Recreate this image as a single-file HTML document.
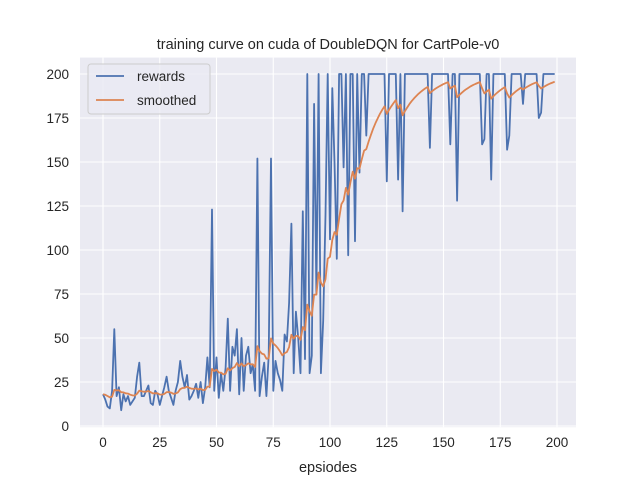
<!DOCTYPE html>
<html><head><meta charset="utf-8"><style>
body{margin:0;background:#fff;}
svg{display:block;font-family:"Liberation Sans","DejaVu Sans",sans-serif;}
</style></head><body>
<svg id="s" width="640" height="480" xmlns="http://www.w3.org/2000/svg">
<rect x="80" y="57.6" width="496" height="369.6" fill="#eaeaf2"/>
<g id="grid" stroke="#fff" stroke-width="1.1"></g>
<g id="lab" font-size="13.5" fill="#262626"></g>
<path id="r" fill="none" stroke="#4c72b0" stroke-width="1.8" stroke-linejoin="round"/>
<path id="m" fill="none" stroke="#dd8452" stroke-width="1.8" stroke-linejoin="round"/>
<text x="328" y="49" font-size="14.5" text-anchor="middle" fill="#262626">training curve on cuda of DoubleDQN for CartPole-v0</text>
<text x="328" y="472" font-size="14.5" text-anchor="middle" fill="#262626">epsiodes</text>
<rect x="88" y="64" width="122" height="50" rx="3" fill="#eaeaf2" fill-opacity="0.8" stroke="#ccc"/>
<line x1="96" y1="76" x2="124" y2="76" stroke="#4c72b0" stroke-width="1.8"/>
<line x1="96" y1="100" x2="124" y2="100" stroke="#dd8452" stroke-width="1.8"/>
<text x="137" y="81" font-size="13.5" fill="#262626">rewards</text>
<text x="137" y="105" font-size="13.5" fill="#262626">smoothed</text>
</svg>
<script>
var X=function(v){return 103+2.27*v},Y=function(v){return 426-1.76*v};
var g=document.getElementById('grid'),l=document.getElementById('lab'),h='',t='';
for(var v=0;v<=200;v+=25){var x=X(v);h+='<line x1="'+x+'" y1="57.6" x2="'+x+'" y2="427.2"/>';t+='<text x="'+x+'" y="447" text-anchor="middle">'+v+'</text>';
var y=Y(v);h+='<line x1="80" y1="'+y+'" x2="576" y2="'+y+'"/>';t+='<text x="69" y="'+(y+5)+'" text-anchor="end">'+v+'</text>';}
g.innerHTML=h;l.innerHTML=t;
var r=[18,15,11,10,20,55,17,22,9,18,14,17,12,14,16,28,36,17,17,20,23,13,12,20,18,12,17,22,28,20,16,12,20,25,37,28,22,29,15,17,20,24,16,25,13,22,39,22,123,20,39,16,30,20,33,61,20,45,40,55,18,50,20,40,45,30,35,20,152,17,28,36,17,40,152,20,37,30,26,20,52,48,70,115,30,65,50,30,122,38,
200,30,40,183,75,200,30,60,120,200,106,192,150,95,200,200,147,200,97,200,200,105,200,144,200,200,165,200,200,200,
200,200,200,200,200,139,200,200,200,200,140,200,122,200,200,200,200,200,200,200,200,200,200,200,158,200,200,200,200,200,
200,200,200,160,200,200,128,200,200,200,200,200,200,200,200,200,200,160,163,200,200,140,200,200,200,200,200,200,157,165,
200,200,200,200,200,183,200,200,200,200,200,200,175,178,200,200,200,200,200,200];
var a='',b='',s=r[0];
for(var i=0;i<r.length;i++){s=i?0.9*s+0.1*r[i]:r[0];a+=(i?'L':'M')+X(i).toFixed(1)+' '+Y(r[i]).toFixed(1);b+=(i?'L':'M')+X(i).toFixed(1)+' '+Y(s).toFixed(1);}
document.getElementById('r').setAttribute('d',a);document.getElementById('m').setAttribute('d',b);
</script>
</body></html>
